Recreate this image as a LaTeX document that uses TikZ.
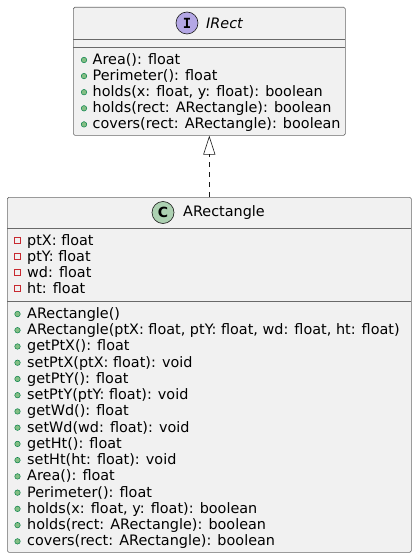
\documentclass[tikz,border=0pt]{standalone}
\usepackage{fontspec}
\setmainfont{DejaVu Sans}
\newfontfamily\monofont{DejaVu Sans Mono}
\usetikzlibrary{arrows.meta}

\definecolor{boxfill}{HTML}{F1F1F1}
\definecolor{boxline}{HTML}{181818}
\definecolor{ifacecol}{HTML}{B4A7E5}
\definecolor{classcol}{HTML}{ADD1B2}
\definecolor{privcol}{HTML}{C82930}
\definecolor{publine}{HTML}{038048}
\definecolor{pubfill}{HTML}{84BE84}

\tikzset{
  umlbox/.style={draw=boxline!65, fill=boxfill, line width=0.6pt, rounded corners=1.5pt, inner sep=0pt, anchor=north west},
  sepline/.style={draw=boxline!65, line width=0.6pt},
  member/.style={anchor=base west, inner sep=0pt, font=\fontsize{14.4}{16}\selectfont},
  badge/.style={circle, draw=boxline, line width=0.6pt, minimum size=22pt, inner sep=0pt},
  pub/.style={circle, draw=publine, fill=pubfill, line width=0.5pt, minimum size=5.5pt, inner sep=0pt},
  priv/.style={rectangle, draw=privcol, line width=0.7pt, minimum size=6pt, inner sep=0pt}
}

\begin{document}
\begin{tikzpicture}[x=1pt, y=-1pt]
  \useasboundingbox (0,0) rectangle (417,559);

  % Interfaz IRect
  \node[umlbox, minimum width=272pt, minimum height=128pt] (irect) at (73,7) {};
  \draw[sepline] (73,39) -- (345,39);
  \draw[sepline] (73,47) -- (345,47);
  \node[badge, fill=ifacecol] (iicon) at (187,23) {\monofont\bfseries\fontsize{14}{14}\selectfont I};
  \node[member, anchor=west, font=\fontsize{14.4}{16}\selectfont\itshape] (iname) at (206,23) {IRect};
  \foreach \m [count=\i] in {Area(): float, Perimeter(): float,
      {holds(x: float, y: float): boolean}, holds(rect: ARectangle): boolean,
      covers(rect: ARectangle): boolean} {
    \node[pub] (ipub\i) at (84, {59.5+(\i-1)*16.1+0.5}) {};
    \node[member] (imeth\i) at (92.5, {59.5+(\i-1)*16.1+5}) {\m};
  }

  % Clase ARectangle
  \node[umlbox, minimum width=404pt, minimum height=355pt] (arect) at (7,197) {};
  \draw[sepline] (7,228.5) -- (411,228.5);
  \draw[sepline] (7,301.5) -- (411,301.5);
  \node[badge, fill=classcol] (cicon) at (163,212.5) {\bfseries\fontsize{14}{14}\selectfont C};
  \node[member, anchor=west, font=\fontsize{14.4}{16}\selectfont] (cname) at (183,212.5) {ARectangle};
  \foreach \m [count=\i] in {ptX: float, ptY: float, wd: float, ht: float} {
    \node[priv] (cpriv\i) at (17.5, {240+(\i-1)*16+0.5}) {};
    \node[member] (cattr\i) at (27, {240+(\i-1)*16+5}) {\m};
  }
  \foreach \m [count=\i] in {ARectangle(),
      {ARectangle(ptX: float, ptY: float, wd: float, ht: float)},
      getPtX(): float, setPtX(ptX: float): void,
      getPtY(): float, setPtY(ptY: float): void,
      getWd(): float, setWd(wd: float): void,
      getHt(): float, setHt(ht: float): void,
      Area(): float, Perimeter(): float,
      {holds(x: float, y: float): boolean}, holds(rect: ARectangle): boolean,
      covers(rect: ARectangle): boolean} {
    \node[pub] (cpub\i) at (17.5, {313.5+(\i-1)*16.24+0.5}) {};
    \node[member] (cmeth\i) at (27, {313.5+(\i-1)*16.24+5}) {\m};
  }

  % Realizacion
  \draw[boxline, line width=0.6pt, dash pattern=on 5pt off 5pt,
        -{Triangle[open, length=19pt, width=12pt]}] (arect.north) -- (irect.south);
\end{tikzpicture}
\end{document}
